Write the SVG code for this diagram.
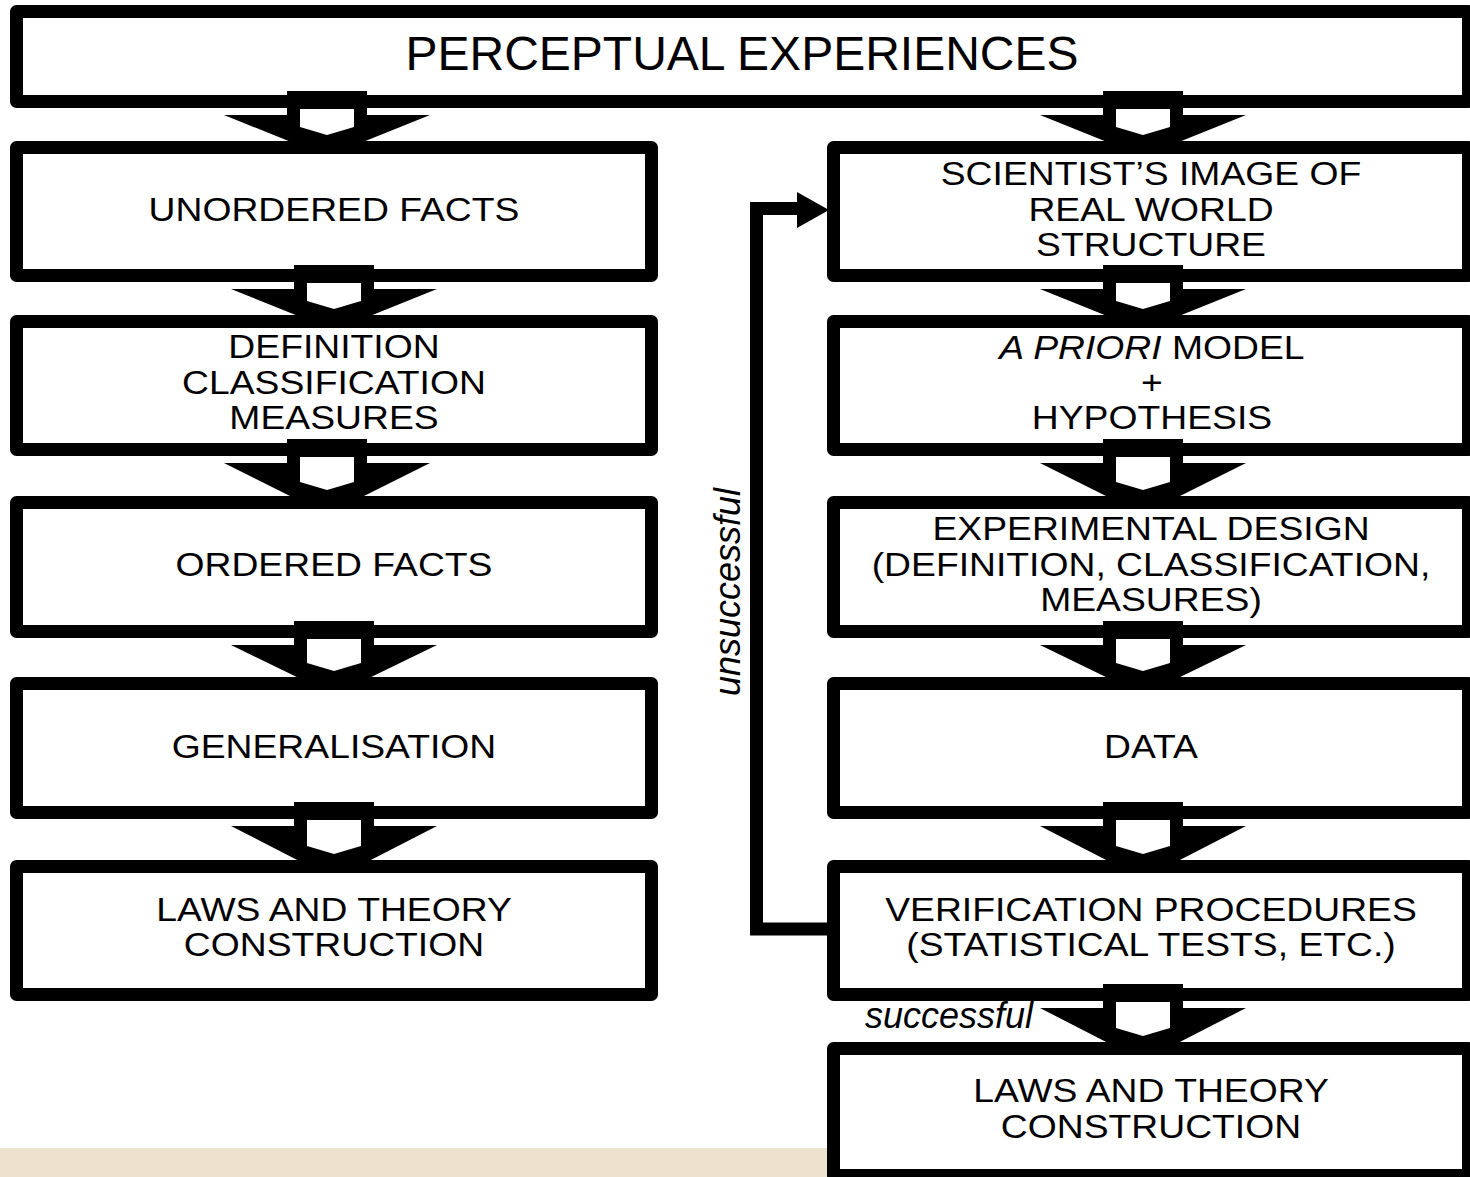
<svg xmlns="http://www.w3.org/2000/svg" width="1470" height="1177" viewBox="0 0 1470 1177">
<style>
.box{fill:#fff;stroke:#000;stroke-width:13;stroke-linejoin:round}
.t{font-family:"Liberation Sans",Arial,sans-serif;font-size:33px;fill:#000;text-anchor:middle}
.title{font-size:48px}
.lbl{font-family:"Liberation Sans",Arial,sans-serif;font-size:36px;font-style:italic;fill:#000}
.ao{fill:#000}
.ai{fill:#fff}
.line{fill:none;stroke:#000;stroke-width:13;stroke-linejoin:miter}
</style>
<rect x="0" y="0" width="1470" height="1177" fill="#fff"/>
<rect x="0" y="1148" width="828" height="29" fill="#ECE2CE"/>
<g id="n-perceptual"><rect class="box" x="16.5" y="11.5" width="1452" height="90"/><text class="t title" x="742" y="70">PERCEPTUAL EXPERIENCES</text></g>
<g id="n-unordered"><rect class="box" x="16.5" y="147.5" width="635" height="128"/><g transform="matrix(1.13 0 0 1 -43.42 0)"><text class="t" x="334" y="221">UNORDERED FACTS</text></g></g>
<g id="n-definition"><rect class="box" x="16.5" y="321.5" width="635" height="128"/><g transform="matrix(1.13 0 0 1 -43.42 0)"><text class="t" x="334" y="358">DEFINITION</text><text class="t" x="334" y="394">CLASSIFICATION</text><text class="t" x="334" y="429">MEASURES</text></g></g>
<g id="n-ordered"><rect class="box" x="16.5" y="502.5" width="635" height="129"/><g transform="matrix(1.13 0 0 1 -43.42 0)"><text class="t" x="334" y="576">ORDERED FACTS</text></g></g>
<g id="n-generalisation"><rect class="box" x="16.5" y="683.5" width="635" height="129"/><g transform="matrix(1.13 0 0 1 -43.42 0)"><text class="t" x="334" y="758">GENERALISATION</text></g></g>
<g id="n-laws-left"><rect class="box" x="16.5" y="866.5" width="635" height="128"/><g transform="matrix(1.13 0 0 1 -43.42 0)"><text class="t" x="334" y="921">LAWS AND THEORY</text><text class="t" x="334" y="956">CONSTRUCTION</text></g></g>
<g id="n-scientist"><rect class="box" x="833.5" y="147.5" width="635" height="128"/><g transform="matrix(1.13 0 0 1 -149.63 0)"><text class="t" x="1151" y="185">SCIENTIST’S IMAGE OF</text><text class="t" x="1151" y="221">REAL WORLD</text><text class="t" x="1151" y="256">STRUCTURE</text></g></g>
<g id="n-apriori"><rect class="box" x="833.5" y="321.5" width="635" height="128"/><g transform="matrix(1.13 0 0 1 -149.76 0)"><text class="t" x="1152" y="359"><tspan font-style="italic">A PRIORI</tspan> MODEL</text><text class="t" x="1152" y="394">+</text><text class="t" x="1152" y="429">HYPOTHESIS</text></g></g>
<g id="n-experimental"><rect class="box" x="833.5" y="502.5" width="635" height="129"/><g transform="matrix(1.13 0 0 1 -149.63 0)"><text class="t" x="1151" y="540">EXPERIMENTAL DESIGN</text><text class="t" x="1151" y="576">(DEFINITION, CLASSIFICATION,</text><text class="t" x="1151" y="611">MEASURES)</text></g></g>
<g id="n-data"><rect class="box" x="833.5" y="683.5" width="635" height="129"/><g transform="matrix(1.13 0 0 1 -149.63 0)"><text class="t" x="1151" y="758">DATA</text></g></g>
<g id="n-verification"><rect class="box" x="833.5" y="866.5" width="635" height="128"/><g transform="matrix(1.13 0 0 1 -149.63 0)"><text class="t" x="1151" y="921">VERIFICATION PROCEDURES</text><text class="t" x="1151" y="956">(STATISTICAL TESTS, ETC.)</text></g></g>
<g id="n-laws-right"><rect class="box" x="833.5" y="1048.5" width="635" height="127"/><g transform="matrix(1.13 0 0 1 -149.63 0)"><text class="t" x="1151" y="1102">LAWS AND THEORY</text><text class="t" x="1151" y="1138">CONSTRUCTION</text></g></g>
<g id="connectors">
<polygon class="ao" points="287,91 367,91 367,115 430,115 358,144 296,144 224,115 287,115"/><polygon class="ai" points="300,109 354,109 354,127 327,135 300,127"/>
<polygon class="ao" points="294,265 374,265 374,289 437,289 365,318 303,318 231,289 294,289"/><polygon class="ai" points="307,283 361,283 361,301 334,309 307,301"/>
<polygon class="ao" points="287,439 367,439 367,463 430,463 358,499 296,499 224,463 287,463"/><polygon class="ai" points="300,457 354,457 354,482 327,490 300,482"/>
<polygon class="ao" points="294,621 374,621 374,645 437,645 365,680 303,680 231,645 294,645"/><polygon class="ai" points="307,639 361,639 361,663 334,671 307,663"/>
<polygon class="ao" points="294,802 374,802 374,826 437,826 365,863 303,863 231,826 294,826"/><polygon class="ai" points="307,820 361,820 361,846 334,854 307,846"/>
<polygon class="ao" points="1103,91 1183,91 1183,115 1246,115 1174,144 1112,144 1040,115 1103,115"/><polygon class="ai" points="1116,109 1170,109 1170,127 1143,135 1116,127"/>
<polygon class="ao" points="1103,265 1183,265 1183,289 1246,289 1174,318 1112,318 1040,289 1103,289"/><polygon class="ai" points="1116,283 1170,283 1170,301 1143,309 1116,301"/>
<polygon class="ao" points="1103,439 1183,439 1183,463 1246,463 1174,499 1112,499 1040,463 1103,463"/><polygon class="ai" points="1116,457 1170,457 1170,482 1143,490 1116,482"/>
<polygon class="ao" points="1103,621 1183,621 1183,645 1246,645 1174,680 1112,680 1040,645 1103,645"/><polygon class="ai" points="1116,639 1170,639 1170,663 1143,671 1116,663"/>
<polygon class="ao" points="1103,802 1183,802 1183,826 1246,826 1174,863 1112,863 1040,826 1103,826"/><polygon class="ai" points="1116,820 1170,820 1170,846 1143,854 1116,846"/>
<polygon class="ao" points="1103,984 1183,984 1183,1008 1246,1008 1174,1045 1112,1045 1040,1008 1103,1008"/><polygon class="ai" points="1116,1002 1170,1002 1170,1028 1143,1036 1116,1028"/>
<path class="line" d="M828,929 H756.5 V208.5 H800"/>
<polygon class="ao" points="797,192 829,210 797,228"/>
<text class="lbl" transform="translate(740,592) rotate(-90)" text-anchor="middle">unsuccessful</text>
<text class="lbl" x="865" y="1028">successful</text>
</g>
</svg>
